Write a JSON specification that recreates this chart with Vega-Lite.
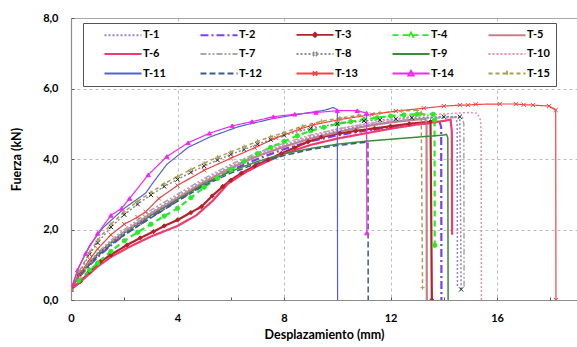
{
  "$schema": "https://vega.github.io/schema/vega-lite/v6.json",
  "width": 506,
  "height": 282,
  "autosize": {"type": "none"},
  "padding": {"left": 71, "top": 18, "right": 0, "bottom": 47},
  "background": "white",
  "config": {"view": {"stroke": null}, "font": "Lato"},
  "data": {"values": [
    {"s":"T-1","x":0,"y":0.3},{"s":"T-1","x":0.3,"y":0.7},{"s":"T-1","x":0.7,"y":1.05},{"s":"T-1","x":1,"y":1.3},{"s":"T-1","x":1.5,"y":1.65},{"s":"T-1","x":2,"y":1.95},{"s":"T-1","x":3,"y":2.48},{"s":"T-1","x":4,"y":2.95},{"s":"T-1","x":5,"y":3.4},{"s":"T-1","x":6,"y":3.8},{"s":"T-1","x":7,"y":4.12},{"s":"T-1","x":8,"y":4.4},{"s":"T-1","x":9,"y":4.62},{"s":"T-1","x":10,"y":4.8},{"s":"T-1","x":11,"y":4.95},{"s":"T-1","x":12,"y":5.06},{"s":"T-1","x":13,"y":5.14},{"s":"T-1","x":14,"y":5.2},{"s":"T-1","x":14.45,"y":5.2},{"s":"T-1","x":14.5,"y":5.0},{"s":"T-1","x":14.51,"y":0.4},
    {"s":"T-2","x":0,"y":0.3},{"s":"T-2","x":0.3,"y":0.65},{"s":"T-2","x":0.7,"y":0.98},{"s":"T-2","x":1,"y":1.22},{"s":"T-2","x":1.5,"y":1.55},{"s":"T-2","x":2,"y":1.85},{"s":"T-2","x":3,"y":2.35},{"s":"T-2","x":4,"y":2.82},{"s":"T-2","x":5,"y":3.28},{"s":"T-2","x":6,"y":3.68},{"s":"T-2","x":7,"y":4.0},{"s":"T-2","x":8,"y":4.28},{"s":"T-2","x":9,"y":4.5},{"s":"T-2","x":10,"y":4.67},{"s":"T-2","x":11,"y":4.8},{"s":"T-2","x":12,"y":4.9},{"s":"T-2","x":13,"y":4.98},{"s":"T-2","x":13.85,"y":5.04},{"s":"T-2","x":13.9,"y":4.9},{"s":"T-2","x":13.91,"y":0},
    {"s":"T-3","x":0,"y":0.3},{"s":"T-3","x":0.35,"y":0.52},{"s":"T-3","x":0.7,"y":0.8},{"s":"T-3","x":1.1,"y":1.09},{"s":"T-3","x":1.5,"y":1.28},{"s":"T-3","x":2.1,"y":1.56},{"s":"T-3","x":2.6,"y":1.76},{"s":"T-3","x":3.1,"y":1.94},{"s":"T-3","x":3.5,"y":2.1},{"s":"T-3","x":4.0,"y":2.27},{"s":"T-3","x":4.5,"y":2.48},{"s":"T-3","x":4.9,"y":2.65},{"s":"T-3","x":5.3,"y":2.95},{"s":"T-3","x":5.7,"y":3.22},{"s":"T-3","x":6.0,"y":3.4},{"s":"T-3","x":6.4,"y":3.6},{"s":"T-3","x":6.9,"y":3.8},{"s":"T-3","x":7.4,"y":3.98},{"s":"T-3","x":7.9,"y":4.16},{"s":"T-3","x":8.4,"y":4.32},{"s":"T-3","x":8.9,"y":4.49},{"s":"T-3","x":9.4,"y":4.62},{"s":"T-3","x":10.1,"y":4.73},{"s":"T-3","x":10.7,"y":4.8},{"s":"T-3","x":11.4,"y":4.87},{"s":"T-3","x":12.0,"y":4.93},{"s":"T-3","x":12.7,"y":5.0},{"s":"T-3","x":13.5,"y":5.06},{"s":"T-3","x":13.55,"y":0},
    {"s":"T-4","x":0,"y":0.3},{"s":"T-4","x":0.3,"y":0.55},{"s":"T-4","x":0.7,"y":0.85},{"s":"T-4","x":1,"y":1.05},{"s":"T-4","x":1.5,"y":1.38},{"s":"T-4","x":2,"y":1.68},{"s":"T-4","x":2.5,"y":1.92},{"s":"T-4","x":3,"y":2.15},{"s":"T-4","x":3.5,"y":2.38},{"s":"T-4","x":4,"y":2.6},{"s":"T-4","x":4.5,"y":2.9},{"s":"T-4","x":5,"y":3.2},{"s":"T-4","x":5.5,"y":3.45},{"s":"T-4","x":6,"y":3.7},{"s":"T-4","x":6.5,"y":3.93},{"s":"T-4","x":7,"y":4.15},{"s":"T-4","x":7.5,"y":4.33},{"s":"T-4","x":8,"y":4.5},{"s":"T-4","x":8.5,"y":4.66},{"s":"T-4","x":9,"y":4.8},{"s":"T-4","x":9.5,"y":4.9},{"s":"T-4","x":10,"y":5.0},{"s":"T-4","x":10.5,"y":5.06},{"s":"T-4","x":11,"y":5.12},{"s":"T-4","x":11.5,"y":5.17},{"s":"T-4","x":12,"y":5.22},{"s":"T-4","x":12.5,"y":5.25},{"s":"T-4","x":13,"y":5.27},{"s":"T-4","x":13.6,"y":5.27},{"s":"T-4","x":13.65,"y":5.1},{"s":"T-4","x":13.66,"y":1.55},
    {"s":"T-5","x":0,"y":0.3},{"s":"T-5","x":0.3,"y":0.68},{"s":"T-5","x":0.7,"y":1.03},{"s":"T-5","x":1,"y":1.3},{"s":"T-5","x":1.5,"y":1.63},{"s":"T-5","x":2,"y":1.93},{"s":"T-5","x":3,"y":2.45},{"s":"T-5","x":4,"y":2.9},{"s":"T-5","x":5,"y":3.35},{"s":"T-5","x":6,"y":3.75},{"s":"T-5","x":7,"y":4.08},{"s":"T-5","x":8,"y":4.35},{"s":"T-5","x":9,"y":4.58},{"s":"T-5","x":10,"y":4.76},{"s":"T-5","x":11,"y":4.92},{"s":"T-5","x":12,"y":5.04},{"s":"T-5","x":13,"y":5.12},{"s":"T-5","x":13.3,"y":5.14},{"s":"T-5","x":13.35,"y":5.0},{"s":"T-5","x":13.36,"y":0},
    {"s":"T-6","x":0,"y":0.3},{"s":"T-6","x":0.3,"y":0.48},{"s":"T-6","x":0.7,"y":0.75},{"s":"T-6","x":1,"y":0.95},{"s":"T-6","x":1.5,"y":1.22},{"s":"T-6","x":2.2,"y":1.51},{"s":"T-6","x":3,"y":1.8},{"s":"T-6","x":4,"y":2.1},{"s":"T-6","x":4.7,"y":2.4},{"s":"T-6","x":5.3,"y":2.8},{"s":"T-6","x":5.9,"y":3.3},{"s":"T-6","x":6.5,"y":3.6},{"s":"T-6","x":7,"y":3.8},{"s":"T-6","x":8,"y":4.15},{"s":"T-6","x":9,"y":4.4},{"s":"T-6","x":10,"y":4.58},{"s":"T-6","x":11,"y":4.72},{"s":"T-6","x":12,"y":4.86},{"s":"T-6","x":13,"y":4.98},{"s":"T-6","x":14,"y":5.08},{"s":"T-6","x":14.25,"y":5.12},{"s":"T-6","x":14.3,"y":4.8},{"s":"T-6","x":14.31,"y":1.85},
    {"s":"T-7","x":0,"y":0.3},{"s":"T-7","x":0.3,"y":0.72},{"s":"T-7","x":0.7,"y":1.1},{"s":"T-7","x":1,"y":1.35},{"s":"T-7","x":1.5,"y":1.7},{"s":"T-7","x":2,"y":2.0},{"s":"T-7","x":3,"y":2.55},{"s":"T-7","x":4,"y":3.0},{"s":"T-7","x":5,"y":3.45},{"s":"T-7","x":6,"y":3.85},{"s":"T-7","x":7,"y":4.18},{"s":"T-7","x":8,"y":4.45},{"s":"T-7","x":9,"y":4.68},{"s":"T-7","x":10,"y":4.85},{"s":"T-7","x":11,"y":4.98},{"s":"T-7","x":12,"y":5.08},{"s":"T-7","x":13,"y":5.14},{"s":"T-7","x":14,"y":5.17},{"s":"T-7","x":14.7,"y":5.18},{"s":"T-7","x":14.75,"y":5.0},{"s":"T-7","x":14.76,"y":0.35},
    {"s":"T-8","x":0,"y":0.3},{"s":"T-8","x":0.3,"y":0.75},{"s":"T-8","x":0.7,"y":1.3},{"s":"T-8","x":1,"y":1.62},{"s":"T-8","x":1.5,"y":2.07},{"s":"T-8","x":2,"y":2.42},{"s":"T-8","x":2.5,"y":2.72},{"s":"T-8","x":3,"y":2.98},{"s":"T-8","x":3.5,"y":3.22},{"s":"T-8","x":4,"y":3.42},{"s":"T-8","x":4.5,"y":3.62},{"s":"T-8","x":5,"y":3.8},{"s":"T-8","x":5.5,"y":3.97},{"s":"T-8","x":6,"y":4.13},{"s":"T-8","x":6.5,"y":4.27},{"s":"T-8","x":7,"y":4.42},{"s":"T-8","x":7.5,"y":4.55},{"s":"T-8","x":8,"y":4.67},{"s":"T-8","x":9,"y":4.87},{"s":"T-8","x":10,"y":5.0},{"s":"T-8","x":11,"y":5.08},{"s":"T-8","x":11.6,"y":5.11},{"s":"T-8","x":12.2,"y":5.14},{"s":"T-8","x":12.8,"y":5.17},{"s":"T-8","x":14,"y":5.2},{"s":"T-8","x":14.6,"y":5.2},{"s":"T-8","x":14.65,"y":0.3},
    {"s":"T-9","x":0,"y":0.3},{"s":"T-9","x":0.3,"y":0.7},{"s":"T-9","x":0.7,"y":1.05},{"s":"T-9","x":1,"y":1.3},{"s":"T-9","x":1.5,"y":1.62},{"s":"T-9","x":2,"y":1.9},{"s":"T-9","x":3,"y":2.4},{"s":"T-9","x":4,"y":2.85},{"s":"T-9","x":5,"y":3.3},{"s":"T-9","x":6,"y":3.65},{"s":"T-9","x":7,"y":3.93},{"s":"T-9","x":8,"y":4.15},{"s":"T-9","x":9,"y":4.3},{"s":"T-9","x":10,"y":4.42},{"s":"T-9","x":11,"y":4.5},{"s":"T-9","x":12,"y":4.56},{"s":"T-9","x":13,"y":4.62},{"s":"T-9","x":14,"y":4.68},{"s":"T-9","x":14.1,"y":4.7},{"s":"T-9","x":14.15,"y":4.6},{"s":"T-9","x":14.16,"y":0},
    {"s":"T-10","x":0,"y":0.3},{"s":"T-10","x":0.3,"y":0.7},{"s":"T-10","x":0.7,"y":1.03},{"s":"T-10","x":1,"y":1.28},{"s":"T-10","x":1.5,"y":1.62},{"s":"T-10","x":2,"y":1.92},{"s":"T-10","x":3,"y":2.45},{"s":"T-10","x":4,"y":2.92},{"s":"T-10","x":5,"y":3.38},{"s":"T-10","x":6,"y":3.78},{"s":"T-10","x":7,"y":4.12},{"s":"T-10","x":8,"y":4.4},{"s":"T-10","x":9,"y":4.65},{"s":"T-10","x":10,"y":4.85},{"s":"T-10","x":11,"y":5.0},{"s":"T-10","x":12,"y":5.12},{"s":"T-10","x":13,"y":5.22},{"s":"T-10","x":14,"y":5.28},{"s":"T-10","x":15,"y":5.32},{"s":"T-10","x":15.25,"y":5.3},{"s":"T-10","x":15.38,"y":5.1},{"s":"T-10","x":15.4,"y":4.7},{"s":"T-10","x":15.41,"y":0},
    {"s":"T-11","x":0,"y":0.3},{"s":"T-11","x":0.3,"y":0.95},{"s":"T-11","x":0.7,"y":1.55},{"s":"T-11","x":1.2,"y":2.05},{"s":"T-11","x":2.0,"y":2.6},{"s":"T-11","x":2.8,"y":3.03},{"s":"T-11","x":3.1,"y":3.35},{"s":"T-11","x":3.6,"y":3.85},{"s":"T-11","x":4.4,"y":4.33},{"s":"T-11","x":5.2,"y":4.62},{"s":"T-11","x":6.3,"y":4.92},{"s":"T-11","x":7.6,"y":5.15},{"s":"T-11","x":8.8,"y":5.3},{"s":"T-11","x":9.5,"y":5.38},{"s":"T-11","x":9.85,"y":5.46},{"s":"T-11","x":10.0,"y":5.4},{"s":"T-11","x":10.01,"y":0},
    {"s":"T-12","x":0,"y":0.3},{"s":"T-12","x":0.3,"y":0.68},{"s":"T-12","x":0.7,"y":1.0},{"s":"T-12","x":1,"y":1.25},{"s":"T-12","x":1.5,"y":1.57},{"s":"T-12","x":2,"y":1.85},{"s":"T-12","x":3,"y":2.33},{"s":"T-12","x":4,"y":2.8},{"s":"T-12","x":5,"y":3.25},{"s":"T-12","x":6,"y":3.6},{"s":"T-12","x":7,"y":3.88},{"s":"T-12","x":8,"y":4.1},{"s":"T-12","x":9,"y":4.27},{"s":"T-12","x":10,"y":4.38},{"s":"T-12","x":11,"y":4.47},{"s":"T-12","x":11.15,"y":4.48},{"s":"T-12","x":11.16,"y":0},
    {"s":"T-13","x":0,"y":0.3},{"s":"T-13","x":0.3,"y":0.7},{"s":"T-13","x":0.7,"y":1.15},{"s":"T-13","x":1.0,"y":1.45},{"s":"T-13","x":1.5,"y":1.85},{"s":"T-13","x":2.0,"y":2.15},{"s":"T-13","x":2.5,"y":2.35},{"s":"T-13","x":2.8,"y":2.5},{"s":"T-13","x":3.3,"y":2.88},{"s":"T-13","x":4.0,"y":3.25},{"s":"T-13","x":5.0,"y":3.68},{"s":"T-13","x":6.0,"y":4.02},{"s":"T-13","x":6.9,"y":4.32},{"s":"T-13","x":7.7,"y":4.6},{"s":"T-13","x":8.6,"y":4.85},{"s":"T-13","x":9.1,"y":4.97},{"s":"T-13","x":10.1,"y":5.12},{"s":"T-13","x":11.3,"y":5.26},{"s":"T-13","x":12.2,"y":5.36},{"s":"T-13","x":13.25,"y":5.44},{"s":"T-13","x":14.0,"y":5.5},{"s":"T-13","x":14.6,"y":5.53},{"s":"T-13","x":14.9,"y":5.53},{"s":"T-13","x":15.2,"y":5.55},{"s":"T-13","x":16.1,"y":5.56},{"s":"T-13","x":16.7,"y":5.56},{"s":"T-13","x":17.0,"y":5.54},{"s":"T-13","x":17.35,"y":5.53},{"s":"T-13","x":17.95,"y":5.5},{"s":"T-13","x":18.2,"y":5.39},{"s":"T-13","x":18.21,"y":0},
    {"s":"T-14","x":0,"y":0.3},{"s":"T-14","x":0.25,"y":0.85},{"s":"T-14","x":0.55,"y":1.32},{"s":"T-14","x":1.0,"y":1.89},{"s":"T-14","x":1.5,"y":2.4},{"s":"T-14","x":1.9,"y":2.6},{"s":"T-14","x":2.2,"y":2.88},{"s":"T-14","x":2.9,"y":3.55},{"s":"T-14","x":3.6,"y":4.07},{"s":"T-14","x":4.4,"y":4.46},{"s":"T-14","x":5.2,"y":4.73},{"s":"T-14","x":6.05,"y":4.94},{"s":"T-14","x":6.8,"y":5.06},{"s":"T-14","x":7.6,"y":5.2},{"s":"T-14","x":8.4,"y":5.27},{"s":"T-14","x":9.2,"y":5.32},{"s":"T-14","x":10.0,"y":5.37},{"s":"T-14","x":10.75,"y":5.37},{"s":"T-14","x":11.1,"y":5.3},{"s":"T-14","x":11.11,"y":1.9},
    {"s":"T-15","x":0,"y":0.3},{"s":"T-15","x":0.3,"y":0.8},{"s":"T-15","x":0.7,"y":1.35},{"s":"T-15","x":1.0,"y":1.7},{"s":"T-15","x":1.5,"y":2.15},{"s":"T-15","x":2.0,"y":2.5},{"s":"T-15","x":2.5,"y":2.8},{"s":"T-15","x":3.0,"y":3.05},{"s":"T-15","x":3.5,"y":3.3},{"s":"T-15","x":4.0,"y":3.5},{"s":"T-15","x":4.5,"y":3.7},{"s":"T-15","x":5.0,"y":3.88},{"s":"T-15","x":5.5,"y":4.05},{"s":"T-15","x":6.0,"y":4.2},{"s":"T-15","x":6.5,"y":4.35},{"s":"T-15","x":7.0,"y":4.5},{"s":"T-15","x":7.5,"y":4.63},{"s":"T-15","x":8.0,"y":4.75},{"s":"T-15","x":8.7,"y":4.93},{"s":"T-15","x":9.4,"y":5.07},{"s":"T-15","x":10.1,"y":5.16},{"s":"T-15","x":10.8,"y":5.24},{"s":"T-15","x":11.6,"y":5.31},{"s":"T-15","x":12.4,"y":5.36},{"s":"T-15","x":13.0,"y":5.38},{"s":"T-15","x":13.15,"y":5.3},{"s":"T-15","x":13.2,"y":0.35}
  ]},
  "layer": [
    {
      "transform": [{"filter": "indexof(['T-2','T-3','T-4','T-5','T-6'], datum.s) >= 0"}],
      "mark": {"type": "line", "clip": true, "strokeWidth": 2.2},
      "encoding": {
        "x": {"field": "x", "type": "quantitative",
          "scale": {"domain": [0, 19], "nice": false, "zero": false},
          "axis": {
            "values": [0,1,2,3,4,5,6,7,8,9,10,11,12,13,14,15,16,17,18,19],
            "labelExpr": "datum.value % 4 === 0 && datum.value <= 16 ? format(datum.value, 'd') : ''",
            "grid": true,
            "gridOpacity": {"condition": {"test": "datum.value % 4 === 0 && datum.value > 0", "value": 1}, "value": 0},
            "gridColor": "#BDBDBD", "gridDash": [3, 3], "gridWidth": 1,
            "domainColor": "#8C8C8C", "domainWidth": 1.2,
            "tickColor": "#555", "tickSize": -3, "tickWidth": 1,
            "labelFont": "Lato", "labelFontWeight": "bold", "labelFontSize": 11, "labelColor": "#000",
            "labelPadding": 15, "labelFlush": false, "labelOverlap": false,
            "title": "Desplazamiento (mm)", "titleFont": "Lato", "titleFontWeight": "bold",
            "titleFontSize": 12.5, "titleColor": "#000", "titlePadding": 5
          }},
        "y": {"field": "y", "type": "quantitative",
          "scale": {"domain": [0, 8], "nice": false, "zero": false},
          "axis": {
            "values": [0,0.5,1,1.5,2,2.5,3,3.5,4,4.5,5,5.5,6,6.5,7,7.5,8],
            "labelExpr": "datum.value % 2 === 0 ? replace(format(datum.value, '.1f'), '.', ',') : ''",
            "grid": true,
            "gridOpacity": {"condition": {"test": "datum.value % 2 === 0 && datum.value > 0", "value": 1}, "value": 0},
            "gridDash": {"condition": {"test": "datum.value === 8", "value": [1, 0]}, "value": [3, 3]},
            "gridColor": {"condition": {"test": "datum.value === 8", "value": "#8C8C8C"}, "value": "#BDBDBD"},
            "domainColor": "#8C8C8C", "domainWidth": 1.2,
            "tickColor": "#555", "tickSize": -3, "tickWidth": 1,
            "labelFont": "Lato", "labelFontWeight": "bold", "labelFontSize": 11, "labelColor": "#000",
            "labelPadding": 16, "labelFlush": false, "labelOverlap": false,
            "title": "Fuerza (kN)", "titleFont": "Lato", "titleFontWeight": "bold",
            "titleFontSize": 12.5, "titleColor": "#000", "titlePadding": 19
          }},
        "color": {"field": "s", "type": "nominal",
          "scale": {"domain": ["T-1","T-2","T-3","T-4","T-5","T-6","T-7","T-8","T-9","T-10","T-11","T-12","T-13","T-14","T-15"],
            "range": ["#9B7FE0","#7B3FF2","#B22228","#22EE22","#C48088","#F23A6E","#A8A8A8","#8C8C8C","#3C8A3C","#E890B0","#5560D0","#3D5C85","#F04545","#F028F0","#A8A050"]},
          "legend": {
            "orient": "none", "legendX": 12, "legendY": 5,
            "direction": "horizontal", "columns": 5, "title": null,
            "strokeColor": "#555", "fillColor": "#fff", "padding": 6,
            "labelFont": "Lato", "labelFontWeight": "bold", "labelFontSize": 11, "labelColor": "#000",
            "symbolType": "M3.33,0H15.67", "symbolSize": 36, "symbolStrokeWidth": 1.8, "labelOffset": 43,
            "columnPadding": 19, "rowPadding": 6.5, "gridAlign": "all",
            "encode": {"symbols": {"update": {"shape": {"signal": "datum.value === 'T-3' ? 'M3.33,0H15.67M9.5,-0.7L10.2,0L9.5,0.7L8.8,0Z' : datum.value === 'T-4' ? 'M3.33,0H15.67M9.5,-0.8L10.3,0.6L8.7,0.6Z' : (datum.value === 'T-8' || datum.value === 'T-13') ? 'M3.33,0H15.67M8.8,-0.7L10.2,0.7M8.8,0.7L10.2,-0.7' : datum.value === 'T-14' ? 'M3.33,0H15.67M9.5,-0.9L10.4,0.7L8.6,0.7Z' : datum.value === 'T-15' ? 'M3.33,0H15.67M9.5,-0.9V0.9' : 'M3.33,0H15.67'"}}}}
          }},
        "strokeDash": {"field": "s", "type": "nominal",
          "scale": {"domain": ["T-1","T-2","T-3","T-4","T-5","T-6","T-7","T-8","T-9","T-10","T-11","T-12","T-13","T-14","T-15"],
            "range": [[2,2],[8,3,2,3],[1,0],[6,4],[1,0],[1,0],[6,2,2,2,2,2],[2,2],[1,0],[2,2],[1,0],[6,3],[1,0],[1,0],[4,3]]}}
      }
    },
    {
      "transform": [{"filter": "indexof(['T-1','T-7','T-8','T-10','T-12','T-15','T-9'], datum.s) >= 0"}],
      "mark": {"type": "line", "clip": true, "strokeWidth": 1.5},
      "encoding": {
        "x": {"field": "x", "type": "quantitative"},
        "y": {"field": "y", "type": "quantitative"},
        "color": {"field": "s", "type": "nominal"},
        "strokeDash": {"field": "s", "type": "nominal"}
      }
    },
    {
      "transform": [{"filter": "indexof(['T-11','T-13','T-14'], datum.s) >= 0"}],
      "mark": {"type": "line", "clip": true, "strokeWidth": 1.2},
      "encoding": {
        "x": {"field": "x", "type": "quantitative"},
        "y": {"field": "y", "type": "quantitative"},
        "color": {"field": "s", "type": "nominal"},
        "strokeDash": {"field": "s", "type": "nominal"}
      }
    },
    {
      "transform": [{"filter": "indexof(['T-3','T-4','T-8','T-13','T-14','T-15'], datum.s) >= 0"}],
      "mark": {"type": "point", "clip": true, "size": 18, "strokeWidth": 1, "opacity": 1},
      "encoding": {
        "x": {"field": "x", "type": "quantitative"},
        "y": {"field": "y", "type": "quantitative"},
        "shape": {"field": "s", "type": "nominal", "legend": null,
          "scale": {"domain": ["T-3","T-4","T-8","T-13","T-14","T-15"],
            "range": ["diamond","circle","M-1,-1L1,1M-1,1L1,-1","M-1,-1L1,1M-1,1L1,-1","triangle-up","M-1,0H1M0,-1V1"]}},
        "stroke": {"field": "s", "type": "nominal", "legend": null,
          "scale": {"domain": ["T-3","T-4","T-8","T-13","T-14","T-15"],
            "range": ["#B22228","#22EE22","#222222","#F04545","#F028F0","#A8A050"]}},
        "fill": {"field": "s", "type": "nominal", "legend": null,
          "scale": {"domain": ["T-3","T-4","T-8","T-13","T-14","T-15"],
            "range": ["#B22228","#22EE22","#222222","#F04545","#F028F0","#A8A050"]}}
      }
    }
  ]
}
